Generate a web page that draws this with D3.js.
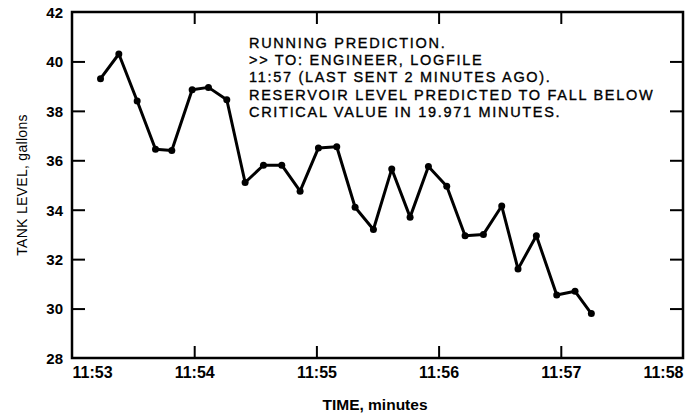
<!DOCTYPE html>
<html>
<head>
<meta charset="utf-8">
<script src="https://cdn.jsdelivr.net/npm/d3@7"></script>
<style>
  body { margin: 0; background: #fff; }
  text { font-family: "Liberation Sans", Arial, sans-serif; fill: #000; }
</style>
</head>
<body>
<div id="chart"></div>
<script>
// readings, one about every 9 seconds
var times = ["11:53:14", "11:53:23", "11:53:32", "11:53:41", "11:53:49", "11:53:59", "11:54:07",
  "11:54:16", "11:54:25", "11:54:34", "11:54:43", "11:54:52", "11:55:01", "11:55:10",
  "11:55:19", "11:55:28", "11:55:37", "11:55:46", "11:55:55", "11:56:04", "11:56:13",
  "11:56:22", "11:56:31", "11:56:39", "11:56:48", "11:56:58", "11:57:07", "11:57:15"];
var levels = [39.3, 40.3, 38.4, 36.45, 36.4, 38.85, 38.95, 38.45, 35.1, 35.8, 35.8, 34.75, 36.5, 36.55,
  34.1, 33.2, 35.65, 33.7, 35.75, 34.95, 32.95, 33.0, 34.15, 31.6, 32.95, 30.55, 30.7, 29.8];

var xTickLabels = ["11:53", "11:54", "11:55", "11:56", "11:57", "11:58"];
var yTicks = [28, 30, 32, 34, 36, 38, 40, 42];

var note = [
  "RUNNING PREDICTION.",
  ">> TO: ENGINEER, LOGFILE",
  "11:57 (LAST SENT 2 MINUTES AGO).",
  "RESERVOIR LEVEL PREDICTED TO FALL BELOW",
  "CRITICAL VALUE IN 19.971 MINUTES."
];

var margin = { top: 12, right: 5, bottom: 59, left: 72 },
  width = 688 - margin.left - margin.right,
  height = 417 - margin.top - margin.bottom;

var parseT = d3.timeParse("%H:%M:%S");
var parseM = d3.timeParse("%H:%M");
var data = times.map(function(t, i) { return { t: parseT(t), v: levels[i] }; });
var xTicks = xTickLabels.map(function(s) { return parseM(s); });

var svg = d3.select("#chart")
  .append("svg")
  .attr("width", 688)
  .attr("height", 417)
  .append("g")
  .attr("transform", "translate(" + margin.left + "," + margin.top + ")");

var x = d3.scaleTime()
  .domain(d3.extent(xTicks))
  .range([0, width]);

var y = d3.scaleLinear()
  .domain([28, 42])
  .range([height, 0]);

// inner ticks on all four sides
var inner = yTicks.slice(1, -1);
var innerX = xTicks.slice(1, -1);

svg.append("g")
  .call(d3.axisLeft(y).tickValues(yTicks).tickSize(-13).tickPadding(9).tickFormat(d3.format("d")))
  .call(function(g) {
    g.select(".domain").remove();
    g.selectAll(".tick line").attr("stroke-width", 2).filter(function(d) { return inner.indexOf(d) < 0; }).remove();
    g.selectAll(".tick text").attr("font-size", 15).attr("font-weight", "bold").attr("dy", "0.36em");
  });

svg.append("g")
  .attr("transform", "translate(" + width + ",0)")
  .call(d3.axisRight(y).tickValues(inner).tickSize(-13).tickFormat(""))
  .call(function(g) {
    g.select(".domain").remove();
    g.selectAll(".tick line").attr("stroke-width", 2);
  });

svg.append("g")
  .attr("transform", "translate(0," + height + ")")
  .call(d3.axisBottom(x).tickValues(xTicks).tickSize(-12).tickPadding(9).tickFormat(d3.timeFormat("%H:%M")))
  .call(function(g) {
    g.select(".domain").remove();
    g.selectAll(".tick line").attr("stroke-width", 2).filter(function(d, i) { return i === 0 || i === xTicks.length - 1; }).remove();
    g.selectAll(".tick text").attr("font-size", 16).attr("font-weight", "bold")
      .attr("text-anchor", function(d, i) { return i === 0 ? "start" : (i === xTicks.length - 1 ? "end" : "middle"); });
  });

svg.append("g")
  .call(d3.axisTop(x).tickValues(innerX).tickSize(-12).tickFormat(""))
  .call(function(g) {
    g.select(".domain").remove();
    g.selectAll(".tick line").attr("stroke-width", 2);
  });

// frame
svg.append("rect")
  .attr("width", width)
  .attr("height", height)
  .attr("fill", "none")
  .attr("stroke", "#000")
  .attr("stroke-width", 2.5);

// the series
svg.append("path")
  .datum(data)
  .attr("fill", "none")
  .attr("stroke", "#000")
  .attr("stroke-width", 3)
  .attr("stroke-linejoin", "round")
  .attr("d", d3.line()
    .x(function(d) { return x(d.t); })
    .y(function(d) { return y(d.v); }));

svg.selectAll(".dot")
  .data(data)
  .join("circle")
  .attr("class", "dot")
  .attr("cx", function(d) { return x(d.t); })
  .attr("cy", function(d) { return y(d.v); })
  .attr("r", 3.5)
  .attr("fill", "#000");

// message box text
svg.append("g")
  .attr("transform", "translate(" + (249 - margin.left) + "," + (48 - margin.top) + ")")
  .selectAll("text")
  .data(note)
  .join("text")
  .attr("y", function(d, i) { return i * 17.2; })
  .attr("font-size", 14.5)
  .attr("letter-spacing", 1.7)
  .attr("stroke", "#000")
  .attr("stroke-width", 0.35)
  .text(function(d) { return d; });

// axis titles
svg.append("text")
  .attr("x", 375 - margin.left)
  .attr("y", height + 52)
  .attr("text-anchor", "middle")
  .attr("font-size", 15.5)
  .attr("font-weight", "bold")
  .text("TIME, minutes");

svg.append("text")
  .attr("transform", "translate(" + (27 - margin.left) + "," + (height / 2) + ") rotate(-90)")
  .attr("text-anchor", "middle")
  .attr("font-size", 14)
  .attr("letter-spacing", 0.3)
  .text("TANK LEVEL, gallons");
</script>
</body>
</html>
